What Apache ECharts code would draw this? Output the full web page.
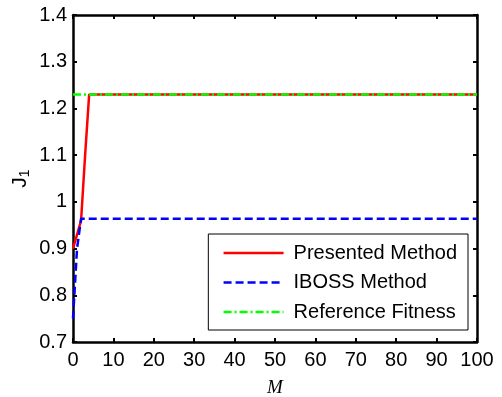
<!DOCTYPE html>
<html>
<head>
<meta charset="utf-8">
<script src="https://cdn.jsdelivr.net/npm/echarts@6/dist/echarts.min.js"></script>
<style>
  html, body { margin: 0; padding: 0; background: #fff; }
  #chart { width: 502px; height: 397px; }
</style>
</head>
<body>
<div id="chart"></div>
<script>
// values
const presented = [[0, 0.9], [1, 0.93], [2, 0.96], [3, 1.1], [4, 1.23], [100, 1.23]];
const iboss = [[0, 0.75], [1, 0.9], [2, 0.964], [100, 0.964]];
const reference = [[0, 1.23], [100, 1.23]];
const xTicks = { min: 0, max: 100, interval: 10 };
const yTicks = { min: 0.7, max: 1.4, interval: 0.1 };

const font = 'Liberation Sans, Arial, sans-serif';
const frameLine = { onZero: false, lineStyle: { color: '#000', width: 2.5 } };
const frameTick = { inside: true, length: 4, lineStyle: { color: '#000', width: 2 } };

const chart = echarts.init(document.getElementById('chart'));
const option = {
  animation: false,
  grid: { left: 73, right: 25, top: 15, bottom: 55, outerBoundsMode: 'none' },
  legend: {
    orient: 'vertical',
    right: 34,
    bottom: 67,
    itemWidth: 60,
    itemHeight: 14,
    itemGap: 9.5,
    padding: [9, 11, 8, 14],
    backgroundColor: '#fff',
    borderColor: '#000',
    borderWidth: 1,
    itemStyle: { opacity: 0 },
    lineStyle: { width: 2.5 },
    textStyle: { fontFamily: font, fontSize: 20, lineHeight: 20, color: '#000', padding: [0, 0, 0, 5] },
    data: ['Presented Method', 'IBOSS Method', 'Reference Fitness']
  },
  xAxis: [
    {
      type: 'value',
      min: xTicks.min, max: xTicks.max, interval: xTicks.interval,
      name: 'M',
      nameLocation: 'middle',
      nameGap: 36,
      nameMoveOverlap: false,
      nameTextStyle: { fontFamily: 'Liberation Serif, Times New Roman, serif', fontStyle: 'italic', fontSize: 19, color: '#000' },
      axisLine: frameLine,
      axisTick: frameTick,
      axisLabel: { fontFamily: font, fontSize: 20, color: '#000', margin: 8 },
      splitLine: { show: false }
    },
    {
      type: 'value', position: 'top',
      min: xTicks.min, max: xTicks.max, interval: xTicks.interval,
      axisLine: frameLine, axisTick: frameTick,
      axisLabel: { show: false }, splitLine: { show: false }
    }
  ],
  yAxis: [
    {
      type: 'value',
      min: yTicks.min, max: yTicks.max, interval: yTicks.interval,
      name: '{j|J}{s|1}',
      nameLocation: 'middle',
      nameGap: 41,
      nameMoveOverlap: false,
      nameRotate: 90,
      nameTextStyle: {
        rich: {
          j: { fontFamily: font, fontSize: 21, color: '#000' },
          s: { fontFamily: font, fontSize: 14, color: '#000', verticalAlign: 'bottom', padding: [9, 0, 0, 0] }
        }
      },
      axisLine: frameLine,
      axisTick: frameTick,
      axisLabel: {
        fontFamily: font, fontSize: 20, color: '#000', margin: 6,
        formatter: v => String(Math.round(v * 10) / 10)
      },
      splitLine: { show: false }
    },
    {
      type: 'value', position: 'right',
      min: yTicks.min, max: yTicks.max, interval: yTicks.interval,
      axisLine: frameLine, axisTick: frameTick,
      axisLabel: { show: false }, splitLine: { show: false }
    }
  ],
  series: [
    {
      name: 'Presented Method', type: 'line', data: presented, symbol: 'none',
      color: '#ff0000', lineStyle: { width: 2.5, type: 'solid' }, z: 2
    },
    {
      name: 'IBOSS Method', type: 'line', data: iboss, symbol: 'none',
      color: '#0000ff', lineStyle: { width: 2.5, type: [8, 4] }, z: 3
    },
    {
      name: 'Reference Fitness', type: 'line', data: reference, symbol: 'none',
      color: '#00ff00', lineStyle: { width: 2.5, type: [8, 3, 2, 3] }, z: 4
    }
  ]
};
option && chart.setOption(option);
</script>
</body>
</html>
